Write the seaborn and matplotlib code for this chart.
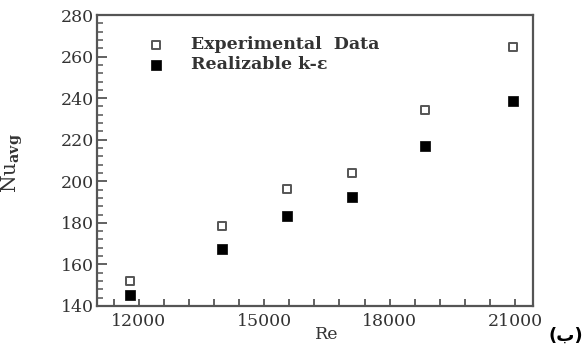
import numpy as np
import pandas as pd
import matplotlib
matplotlib.use("Agg")
import matplotlib.pyplot as plt
from matplotlib.ticker import MultipleLocator
import seaborn as sns

# Reynolds numbers and average Nusselt numbers
re_values = [11800, 14000, 15550, 17100, 18850, 20950]
nu_experimental = [152, 178.5, 196.5, 204, 234.5, 264.5]
nu_realizable = [145.5, 167.5, 183.5, 192.5, 217, 238.5]
series_names = ["Experimental  Data", "Realizable k-\u03b5"]

x_ticks = [12000, 15000, 18000, 21000]
y_ticks = [140, 160, 180, 200, 220, 240, 260, 280]

df_exp = pd.DataFrame({"Re": re_values, "Nu": nu_experimental})
df_num = pd.DataFrame({"Re": re_values, "Nu": nu_realizable})

sns.set_theme(style="white")
plt.rcParams["font.family"] = ["DejaVu Serif"]
plt.rcParams["mathtext.fontset"] = "dejavuserif"

W, H = 582, 347
fig = plt.figure(figsize=(W / 100, H / 100), dpi=100)
ax = fig.add_axes([97 / W, (H - 306) / H, (533 - 97) / W, (306 - 15) / H])

text_color = "#333333"
edge_color = "#555555"

sns.scatterplot(data=df_exp, x="Re", y="Nu", ax=ax, marker="s", s=40,
                facecolor="white", edgecolor=edge_color, linewidth=1.4,
                label=series_names[0])
sns.scatterplot(data=df_num, x="Re", y="Nu", ax=ax, marker="s", s=42,
                color="black", edgecolor="black", linewidth=0.5,
                label=series_names[1])

ax.set_xlim(11000, 21430)
ax.set_ylim(140, 280)
ax.set_xticks(x_ticks)
ax.set_yticks(y_ticks)
ax.xaxis.set_minor_locator(MultipleLocator(600))
ax.yaxis.set_minor_locator(MultipleLocator(4))

ax.tick_params(axis="both", which="both", direction="in", colors=edge_color,
               labelcolor=text_color, labelsize=12.5)
ax.tick_params(axis="x", which="major", length=5, width=1.3, pad=5)
ax.tick_params(axis="x", which="minor", length=5, width=1.3)
ax.tick_params(axis="y", which="major", length=7, width=1.3, pad=2)
ax.tick_params(axis="y", which="minor", length=4, width=1.1)
ax.tick_params(bottom=True, left=True, top=False, right=False, which="both")

for side in ["left", "bottom", "top", "right"]:
    ax.spines[side].set_visible(True)
    ax.spines[side].set_color(edge_color)
    ax.spines[side].set_linewidth(1.6)

ax.set_xlabel("Re", fontsize=12.5, color=text_color, labelpad=-2)
ax.xaxis.set_label_coords((327 - 97) / (533 - 97), -0.07)
ax.set_ylabel(r"$\mathrm{Nu}_{\mathbf{avg}}$", fontsize=14.5, color=text_color,
              labelpad=4)
ax.yaxis.set_label_coords(-0.165, 0.49)

leg = ax.legend(loc="upper left", bbox_to_anchor=(0.08, 0.95), frameon=False,
                handletextpad=1.0, labelspacing=0.15, borderaxespad=0,
                prop={"size": 12.5, "weight": "bold"})
for t in leg.get_texts():
    t.set_color(text_color)

fig.text(548 / W, 1 - 336 / H, "(\u0628)", fontsize=13, fontweight="bold",
         family=["DejaVu Sans"], color="black", va="center", ha="left")

fig.savefig("out.png", dpi=100)
